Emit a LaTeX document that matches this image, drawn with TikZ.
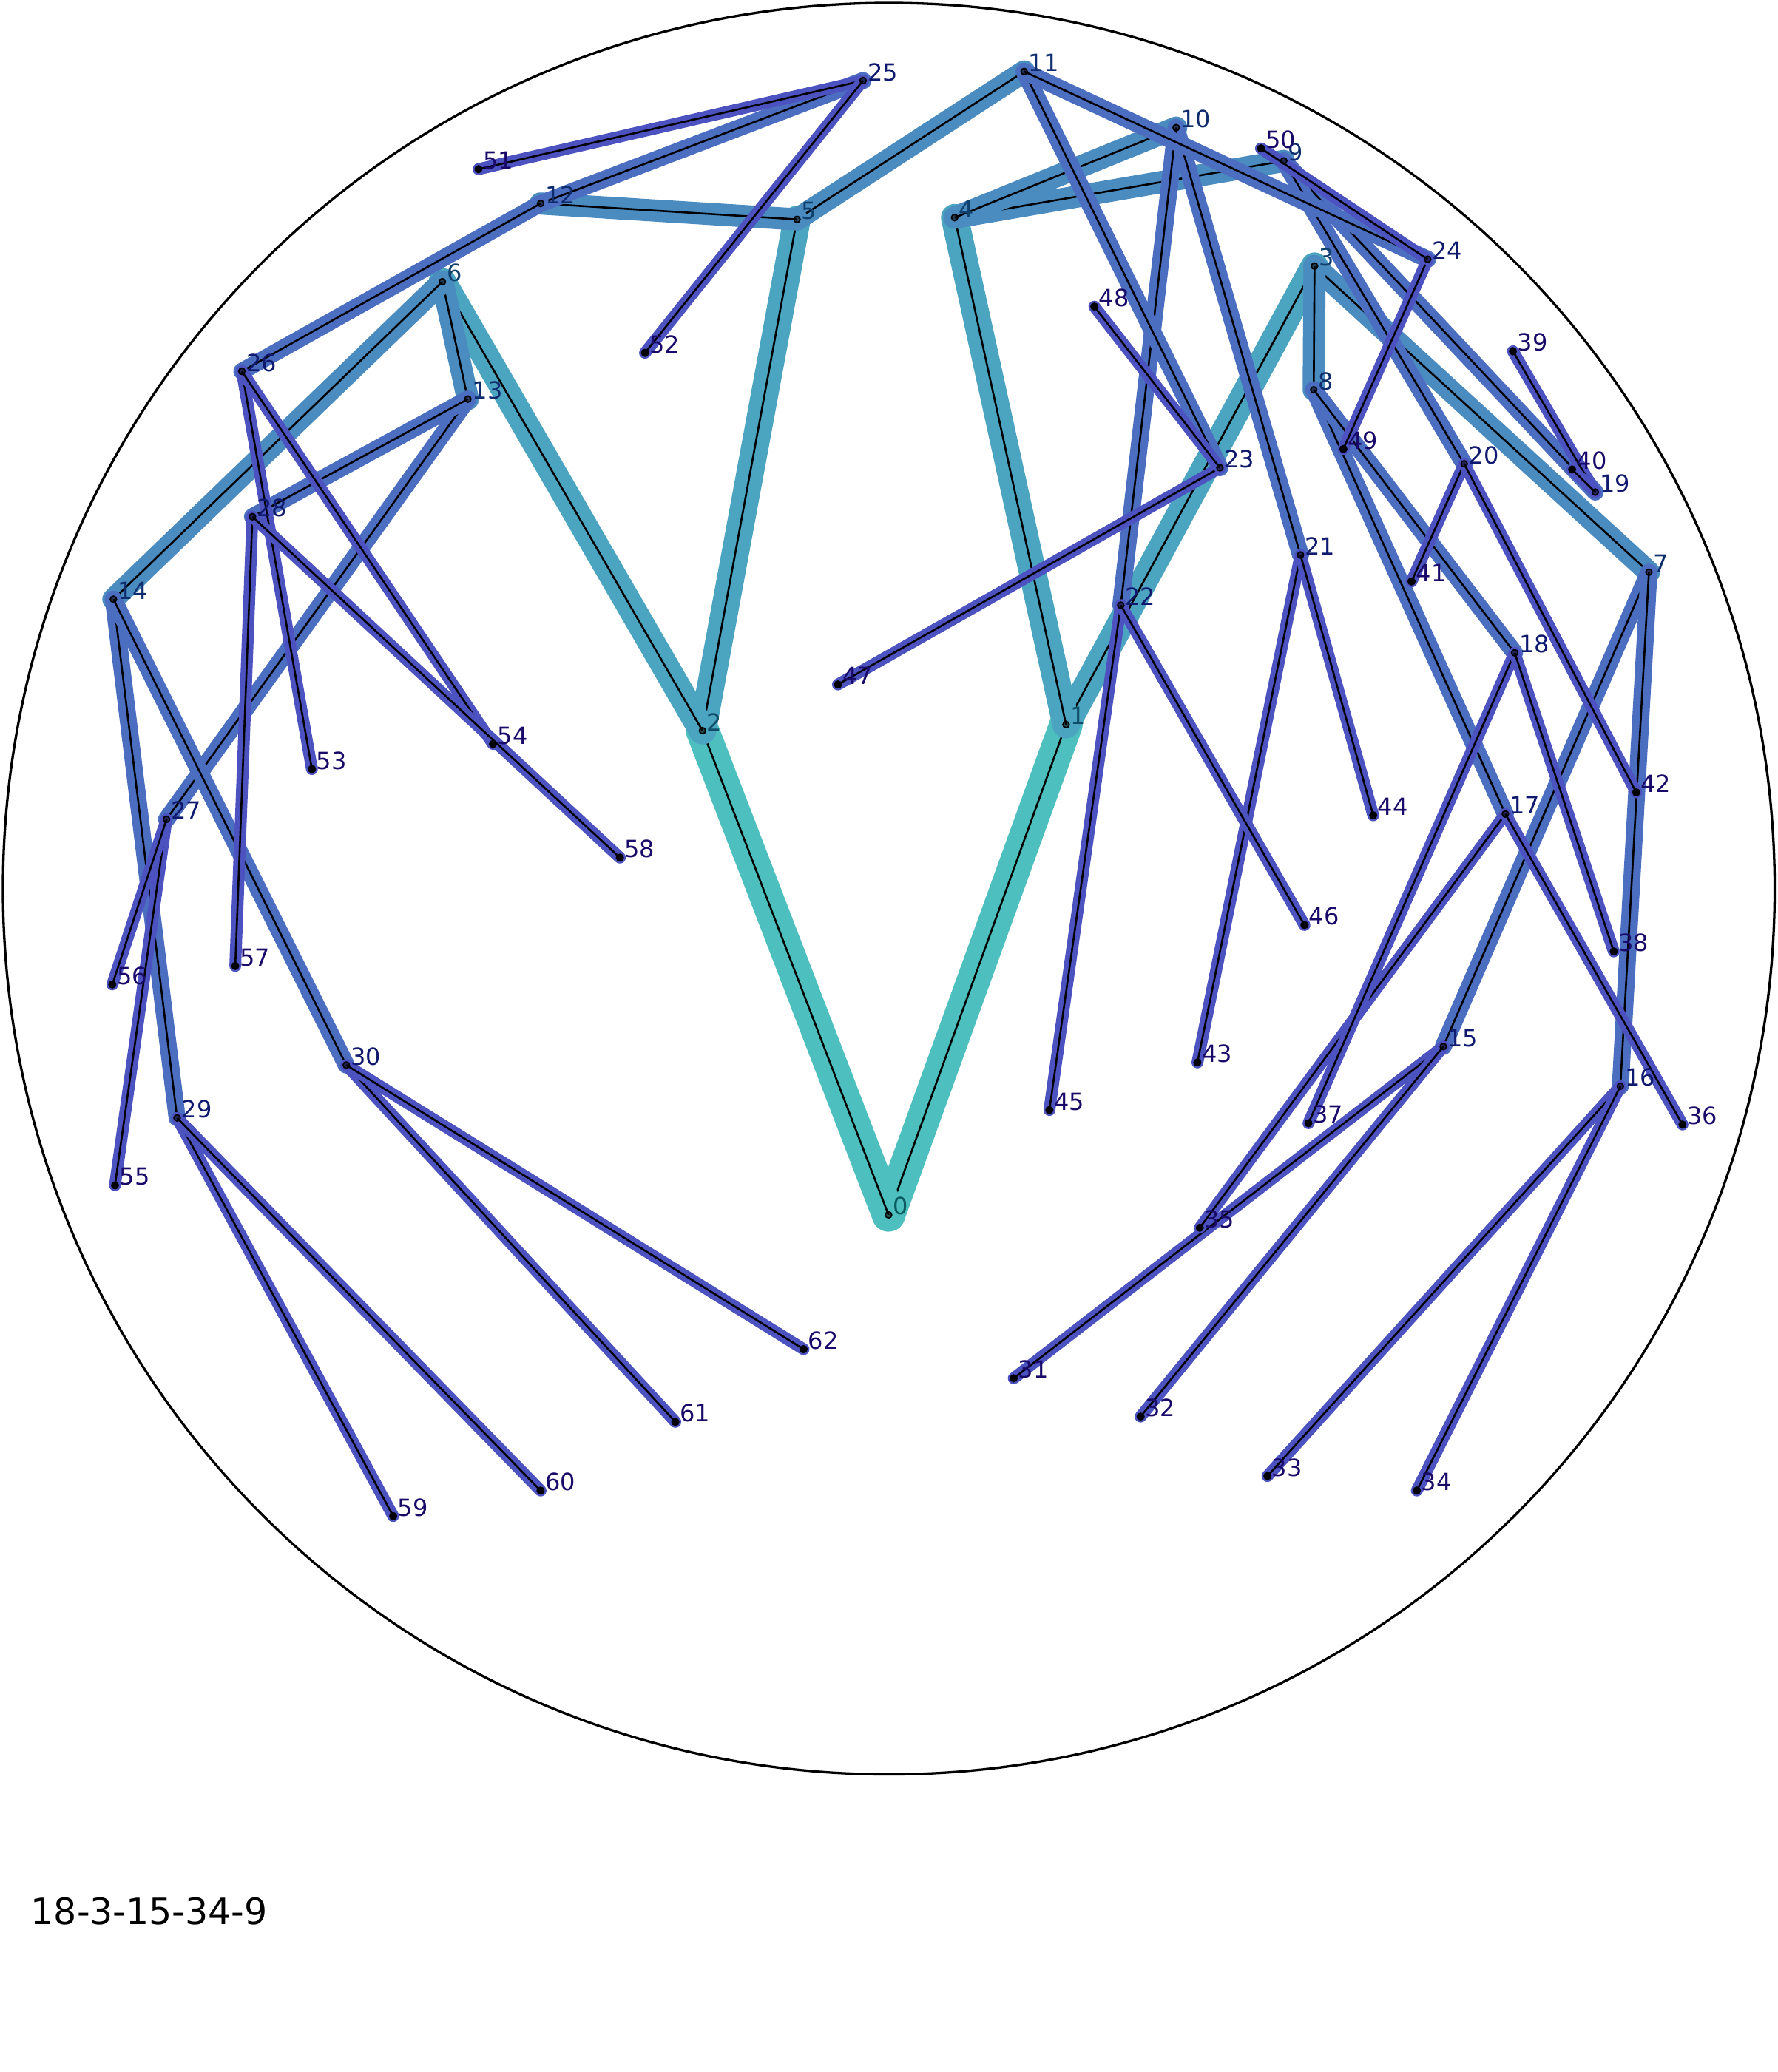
\documentclass[tikz,border=0pt]{standalone}
\usepackage{fontspec}
\setmainfont{DejaVu Sans}
\usepackage{xcolor}
\usetikzlibrary{positioning}

% edge colours, one per depth
\definecolor{edgeA}{RGB}{77,191,191}
\definecolor{edgeB}{RGB}{75,164,192}
\definecolor{edgeC}{RGB}{74,139,192}
\definecolor{edgeD}{RGB}{76,110,192}
\definecolor{edgeE}{RGB}{76,82,192}
% label colours, one per depth
\definecolor{labA}{RGB}{10,90,95}
\definecolor{labB}{RGB}{15,78,105}
\definecolor{labC}{RGB}{15,65,110}
\definecolor{labD}{RGB}{15,45,110}
\definecolor{labE}{RGB}{15,25,110}
\definecolor{labF}{RGB}{25,10,105}

\begin{document}
\begin{tikzpicture}[
    x=1.78736pt, y=-1.78736pt,
    % Define simple, standard styles
    band/.style={line width=#1, line cap=round},
    wire/.style={draw=black, line width=2.6pt},
    inner dot/.style={circle, draw=black, line width=1.8pt, fill=black, fill opacity=0.55, minimum size=8.5pt, inner sep=0pt},
    leaf dot/.style={circle, draw=black, line width=1.5pt, fill=black, minimum size=9.5pt, inner sep=0pt},
    lbl/.style={anchor=base west, inner sep=0pt, font=\fontsize{32}{38}\selectfont}
]
\useasboundingbox (0,0) rectangle (1345,1568);

% 1. Outer rim
\draw[line width=3.3pt] (672.5,672.5) circle[radius=1198pt];

% 2. Positions of the tree vertices
\coordinate (v0) at (672.3,919.4);
\coordinate (v1) at (806.6,548.3);
\coordinate (v2) at (531.5,552.9);
\coordinate (v3) at (994.6,201.4);
\coordinate (v4) at (722.3,164.7);
\coordinate (v5) at (603,166);
\coordinate (v6) at (334.7,213.2);
\coordinate (v7) at (1247.6,433);
\coordinate (v8) at (994,295);
\coordinate (v9) at (971.3,121.8);
\coordinate (v10) at (889.9,96.6);
\coordinate (v11) at (774.9,54.1);
\coordinate (v12) at (409,154);
\coordinate (v13) at (354,302);
\coordinate (v14) at (85.8,453.5);
\coordinate (v15) at (1092,792);
\coordinate (v16) at (1226,822);
\coordinate (v17) at (1139,616);
\coordinate (v18) at (1146,494);
\coordinate (v19) at (1207,372.4);
\coordinate (v20) at (1107.8,351);
\coordinate (v21) at (984,420);
\coordinate (v22) at (848,458);
\coordinate (v23) at (923,354);
\coordinate (v24) at (1080.2,196.2);
\coordinate (v25) at (653,61);
\coordinate (v26) at (183,281);
\coordinate (v27) at (126,620);
\coordinate (v28) at (191,391);
\coordinate (v29) at (134,846);
\coordinate (v30) at (262,806);
\coordinate (v31) at (767,1043);
\coordinate (v32) at (863,1072);
\coordinate (v33) at (959,1117);
\coordinate (v34) at (1072,1128);
\coordinate (v35) at (907.8,929.1);
\coordinate (v36) at (1273,851);
\coordinate (v37) at (990,850);
\coordinate (v38) at (1221,720);
\coordinate (v39) at (1144.7,265.8);
\coordinate (v40) at (1189.5,355.3);
\coordinate (v41) at (1068,440);
\coordinate (v42) at (1238,599.6);
\coordinate (v43) at (906,804);
\coordinate (v44) at (1039,617);
\coordinate (v45) at (794,840);
\coordinate (v46) at (987,700);
\coordinate (v47) at (634,518);
\coordinate (v48) at (828,232);
\coordinate (v49) at (1016.4,339.8);
\coordinate (v50) at (954.1,112.3);
\coordinate (v51) at (362,128);
\coordinate (v52) at (488,267);
\coordinate (v53) at (236,582);
\coordinate (v54) at (373,563);
\coordinate (v55) at (87,897);
\coordinate (v56) at (85,745);
\coordinate (v57) at (178,731);
\coordinate (v58) at (469,649);
\coordinate (v59) at (297.5,1147.3);
\coordinate (v60) at (409,1128);
\coordinate (v61) at (511,1076);
\coordinate (v62) at (608,1021);

% 3. Edges, shallow levels first
\foreach \a/\b in {0/1,0/2} {
  \draw[band=45pt, edgeA] (v\a) -- (v\b);
  \draw[wire] (v\a) -- (v\b);
}
\foreach \a/\b in {1/3,1/4,2/5,2/6} {
  \draw[band=37pt, edgeB] (v\a) -- (v\b);
  \draw[wire] (v\a) -- (v\b);
}
\foreach \a/\b in {3/7,3/8,4/9,4/10,5/11,5/12,6/13,6/14} {
  \draw[band=30pt, edgeC] (v\a) -- (v\b);
  \draw[wire] (v\a) -- (v\b);
}
\foreach \a/\b in {7/15,7/16,8/17,8/18,9/19,9/20,10/21,10/22,11/23,11/24,12/25,12/26,13/27,13/28,14/29,14/30} {
  \draw[band=23pt, edgeD] (v\a) -- (v\b);
  \draw[wire] (v\a) -- (v\b);
}
\foreach \a/\b in {15/31,15/32,16/33,16/34,17/35,17/36,18/37,18/38,19/39,19/40,20/41,20/42,21/43,21/44,22/45,22/46,23/47,23/48,24/49,24/50,25/51,25/52,26/53,26/54,27/55,27/56,28/57,28/58,29/59,29/60,30/61,30/62} {
  \draw[band=16pt, edgeE] (v\a) -- (v\b);
  \draw[wire] (v\a) -- (v\b);
}

% 4. Vertex dots
\foreach \i in {0,...,30} \node[inner dot] (n\i) at (v\i) {};
\foreach \i in {31,...,62} \node[leaf dot] (n\i) at (v\i) {};

% 5. Vertex labels
\foreach \i in {0} \node[lbl, text=labA] (t\i) at ([xshift=6pt]v\i) {\i};
\foreach \i in {1,2} \node[lbl, text=labB] (t\i) at ([xshift=6pt]v\i) {\i};
\foreach \i in {3,...,6} \node[lbl, text=labC] (t\i) at ([xshift=6pt]v\i) {\i};
\foreach \i in {7,...,14} \node[lbl, text=labD] (t\i) at ([xshift=6pt]v\i) {\i};
\foreach \i in {15,...,30} \node[lbl, text=labE] (t\i) at ([xshift=6pt]v\i) {\i};
\foreach \i in {31,...,62} \node[lbl, text=labF] (t\i) at ([xshift=6pt]v\i) {\i};

% 6. Caption
\node[anchor=base west, inner sep=0pt, font=\fontsize{49}{58}\selectfont] (caption) at (23.3,1456.3) {18-3-15-34-9};

\end{tikzpicture}
\end{document}
